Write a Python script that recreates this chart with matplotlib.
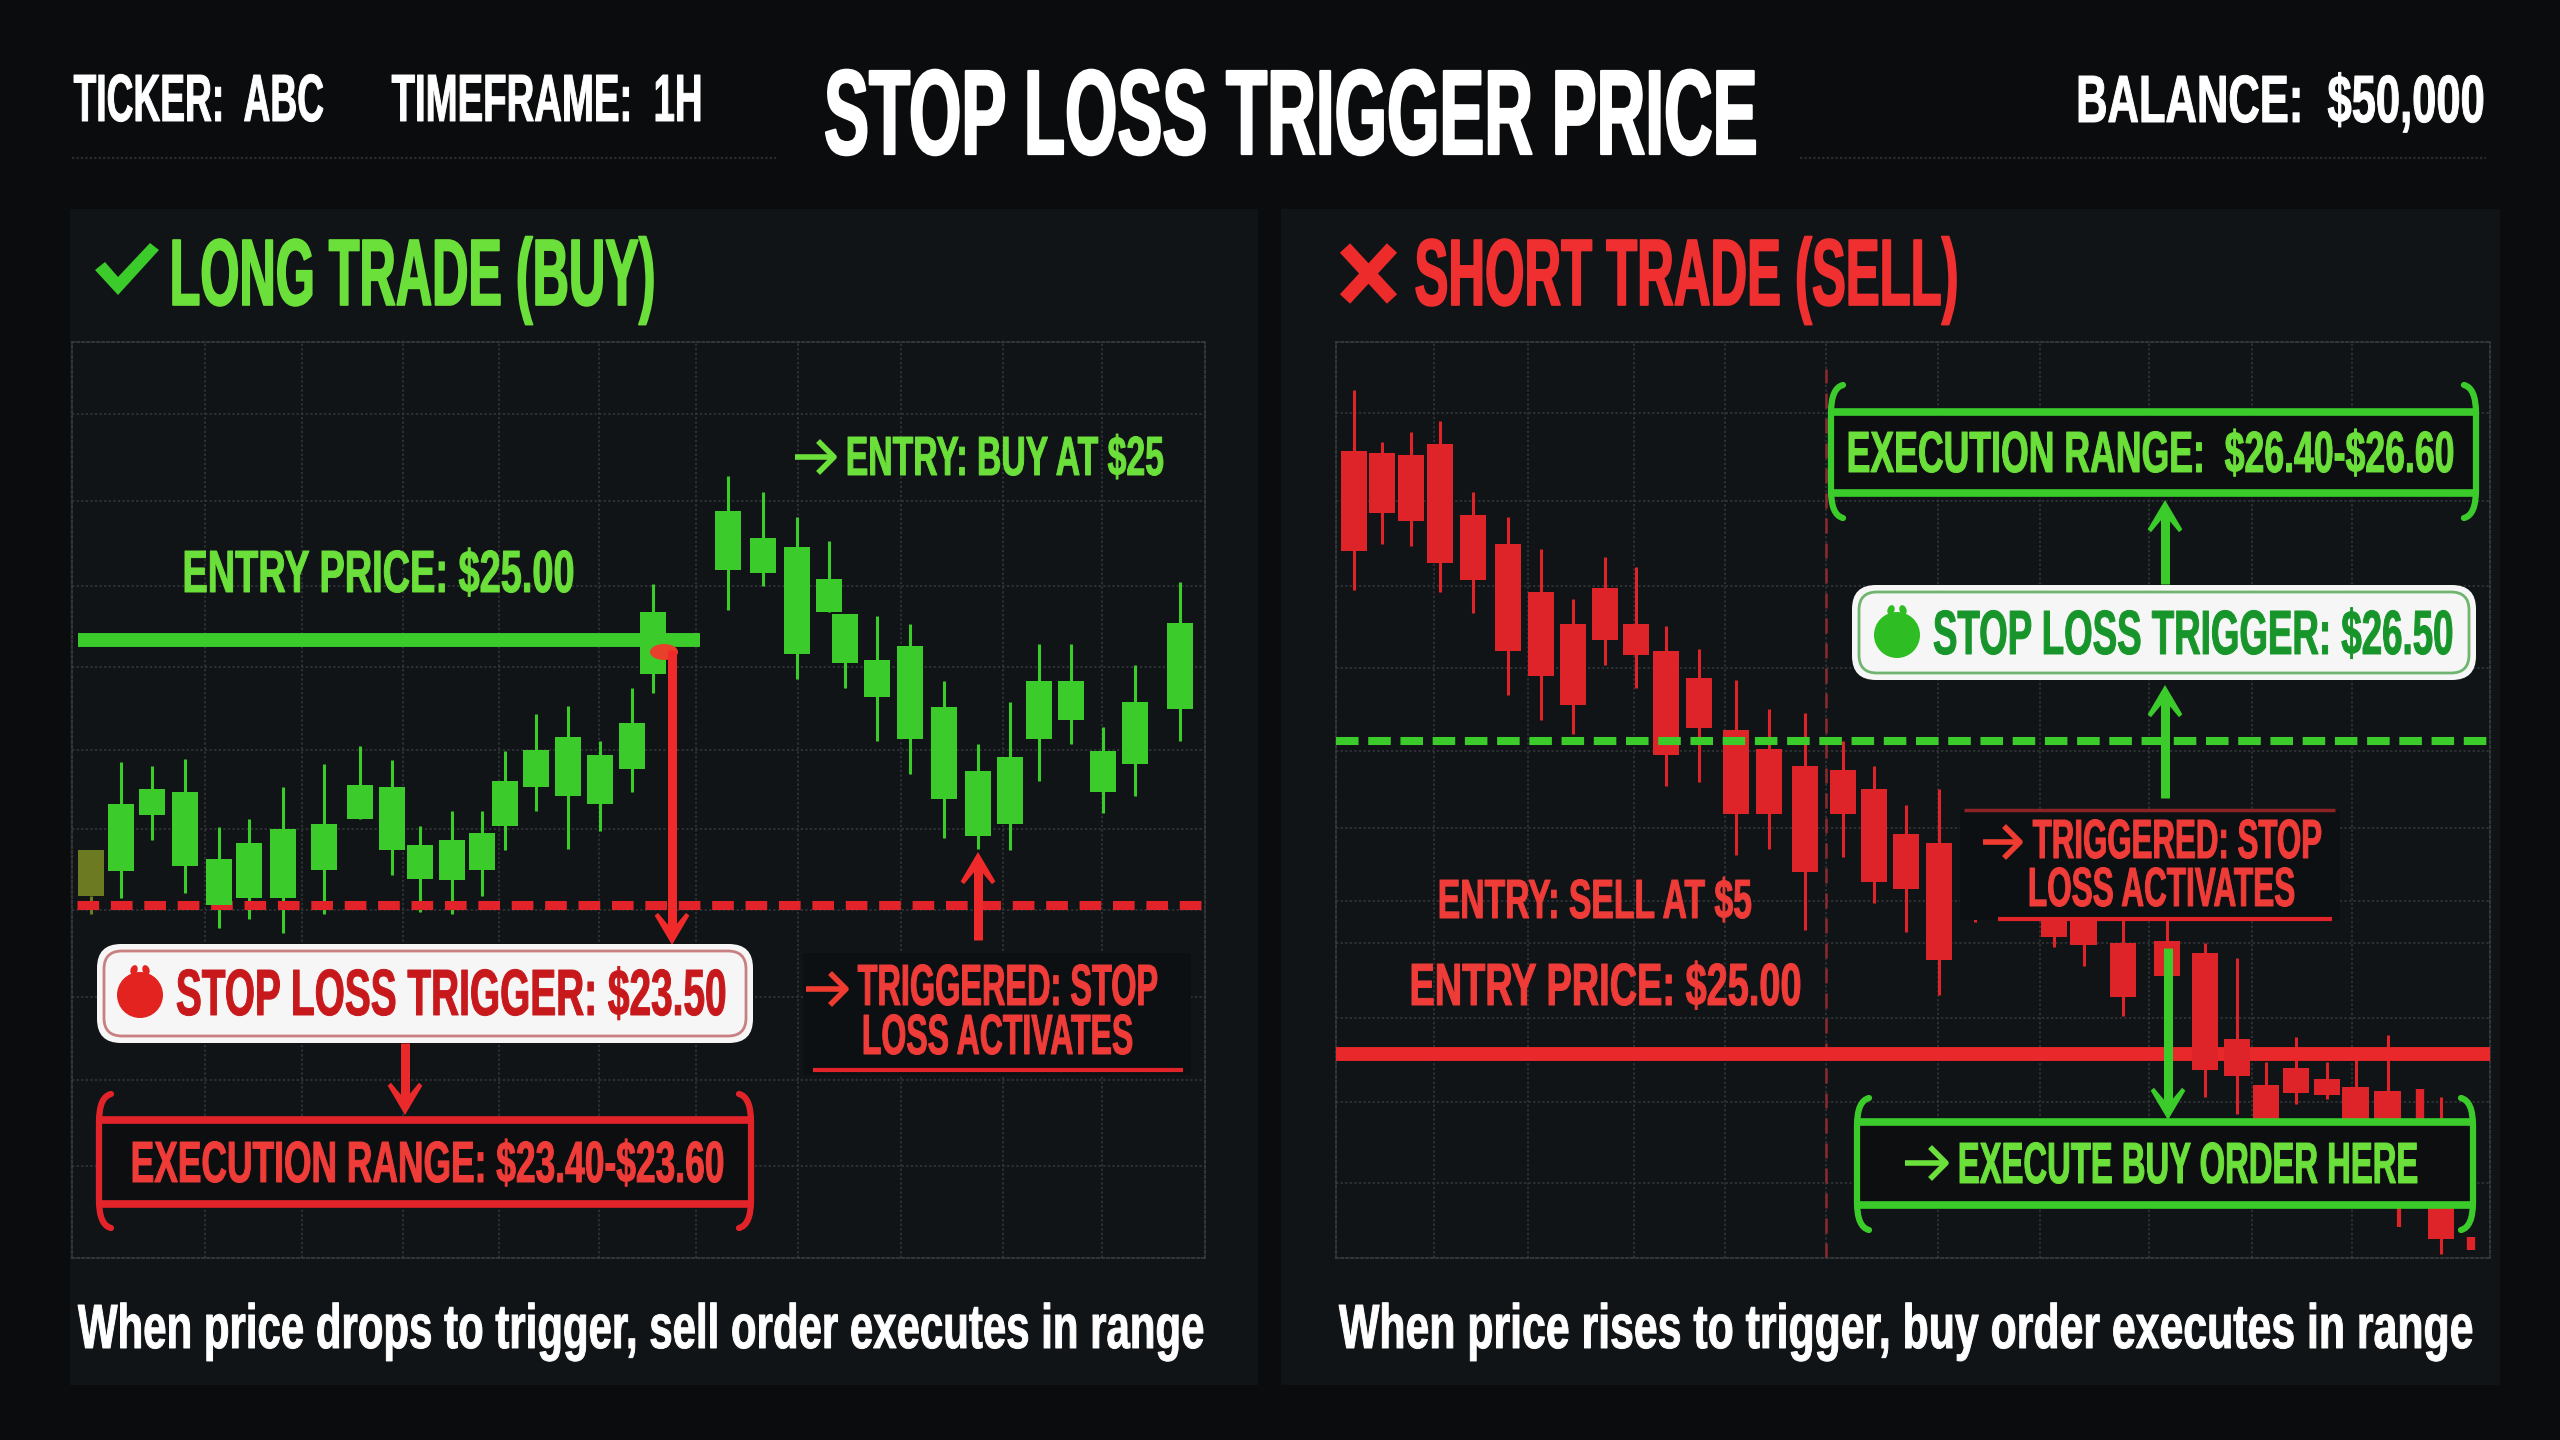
# -*- coding: utf-8 -*-
import matplotlib
matplotlib.use('Agg')
import matplotlib.pyplot as plt
from matplotlib.patches import Rectangle, FancyBboxPatch, Circle, Ellipse, Polygon, PathPatch
from matplotlib.path import Path
from matplotlib.text import Text
from matplotlib.textpath import TextPath
from matplotlib.font_manager import FontProperties
from matplotlib.transforms import Affine2D

# long trade candles (bar number, prices in $)
long_t = [0, .94, 1.9, 2.94, 4, 4.94, 6, 7.28, 8.4, 9.4, 10.28, 11.28, 12.22, 12.94, 13.9, 14.9, 15.9, 16.9, 17.56,
          19.9, 21, 22.06, 23.06, 23.56, 24.56, 25.6, 26.66, 27.72, 28.72, 29.62, 30.62, 31.62, 32.62, 34.03]
long_open = [23.55, 23.69, 24.01, 23.72, 23.50, 23.54, 23.54, 23.70, 23.99, 23.81, 23.65, 23.64, 23.70, 23.95, 24.17, 24.12, 24.07, 24.27, 24.81,
             25.40, 25.38, 24.92, 25.16, 24.87, 24.68, 24.44, 24.10, 23.89, 23.96, 24.44, 24.55, 24.14, 24.30, 24.61]
long_close = [23.81, 24.07, 24.16, 24.14, 23.76, 23.85, 23.93, 23.96, 24.18, 24.17, 23.84, 23.87, 23.91, 24.20, 24.38, 24.45, 24.35, 24.53, 25.16,
              25.73, 25.58, 25.53, 25.35, 25.15, 24.89, 24.97, 24.62, 24.26, 24.34, 24.77, 24.77, 24.37, 24.65, 25.10]
long_low = [23.45, 23.54, 23.87, 23.57, 23.37, 23.42, 23.34, 23.45, 23.99, 23.67, 23.46, 23.45, 23.55, 23.81, 24.03, 23.82, 23.92, 24.14, 24.70,
            25.17, 25.31, 24.78, 25.16, 24.73, 24.43, 24.24, 23.88, 23.82, 23.81, 24.20, 24.41, 24.02, 24.12, 24.43]
long_high = [24.13, 24.31, 24.29, 24.33, 23.94, 23.99, 24.17, 24.30, 24.40, 24.32, 23.95, 24.03, 24.03, 24.37, 24.58, 24.63, 24.43, 24.73, 25.32,
             25.93, 25.84, 25.70, 25.56, 25.15, 25.14, 25.09, 24.77, 24.41, 24.65, 24.98, 24.98, 24.51, 24.86, 25.33]

# short trade candles
short_t = [0, .88, 1.78, 2.69, 3.72, 4.81, 5.84, 6.84, 7.84, 8.81, 9.75, 10.78, 11.94, 12.97, 14.09, 15.28, 16.25, 17.25, 18.28,
           19.4, 21.88, 22.8, 24.03, 25.4, 26.6, 27.6, 28.5, 29.44, 30.4, 31.3, 32.3, 33.97]
short_open = [27.89, 27.88, 27.87, 27.92, 27.58, 27.44, 27.21, 27.06, 27.23, 27.06, 26.93, 26.80, 26.55, 26.46, 26.38, 26.36, 26.27, 26.05, 26.01,
              25.71, 25.70, 25.70, 25.53, 25.54, 25.48, 25.07, 24.85, 24.93, 24.88, 24.84, 24.82, 24.26]
short_close = [27.41, 27.59, 27.55, 27.35, 27.27, 26.93, 26.81, 26.67, 26.98, 26.91, 26.43, 26.56, 26.15, 26.15, 25.87, 26.15, 25.82, 25.79, 25.45,
               25.66, 25.56, 25.52, 25.27, 25.37, 24.92, 24.89, 24.60, 24.81, 24.80, 24.63, 24.63, 24.11]
short_low = [27.22, 27.44, 27.43, 27.21, 27.11, 26.72, 26.60, 26.53, 26.86, 26.75, 26.28, 26.30, 25.95, 25.98, 25.59, 25.94, 25.72, 25.58, 25.28,
             25.63, 25.51, 25.42, 25.18, 25.37, 24.79, 24.71, 24.60, 24.76, 24.78, 24.63, 24.63, 24.04]
short_high = [28.18, 27.93, 27.98, 28.03, 27.69, 27.57, 27.42, 27.18, 27.38, 27.33, 27.05, 26.94, 26.79, 26.65, 26.63, 26.50, 26.38, 26.19, 26.27,
              25.71, 25.85, 25.85, 25.64, 25.64, 25.53, 25.46, 24.96, 25.08, 24.96, 24.97, 25.09, 24.79]
# stray bits that stick out around the execute box
short_extra_t = [33.3, 32.66, 34.9]
short_extra_low = [24.60, 24.17, 24.06]
short_extra_high = [24.83, 24.27, 24.12]

long_entry = 25.00
long_stop = 23.50
short_entry = 25.00
short_stop = 26.50

# grid levels
long_grid_t = [3.56, 6.59, 9.75, 12.75, 15.88, 18.9, 22.1, 25.3, 28.5, 31.6]
long_grid_p = [26.28, 25.79, 25.31, 24.85, 24.38, 23.93, 23.47, 22.98, 22.51, 22.02]
short_grid_t = [2.5, 5.44, 8.75, 11.6, 14.75, 18.25, 21.44, 24.84, 28.06, 31.2]
short_grid_p = [28.07, 27.65, 27.24, 26.85, 26.45, 26.08, 25.73, 25.53, 25.17, 24.77, 24.38]

BG = '#0b0c0d'
PANEL = '#101416'
DARK = '#0c0e10'
GREEN = '#3bcb2b'
RED = '#e2242a'
GREEN_TXT = '#6ce03a'
RED_TXT = '#f03c38'
GRID = '#34383c'

fig = plt.figure(figsize=(25.6, 14.4), dpi=100, facecolor=BG)
W, H = 2560., 1440.


def px_axes(z):
    a = fig.add_axes([0, 0, 1, 1], zorder=z)
    a.set_xlim(0, W)
    a.set_ylim(H, 0)
    a.axis('off')
    a.patch.set_alpha(0)
    return a


back = px_axes(0)
top = px_axes(5)


class TallText(Text):
    # no condensed font is installed: font size fits the width x0..x1, glyphs are stretched up to the cap height
    def __init__(self, x0, x1, base, cap, txt, color, stroke):
        Text.__init__(self, x0, base, txt, color=color, parse_math=False, zorder=10, ha='left', va='baseline')
        self.span = (x0, x1)
        self.stroke = stroke
        self.prop = FontProperties(family='Liberation Sans', weight='bold')
        self.esc = txt.replace('$', r'\$')
        wide = TextPath((0, 0), self.esc, size=100, prop=self.prop).get_extents().width
        h = TextPath((0, 0), 'H', size=100, prop=self.prop).get_extents().height
        self.size_px = 100. * (x1 - x0) / wide
        self.stretch = cap / (h * self.size_px / 100.)
        self.set_fontproperties(self.prop)
        self.set_fontsize(self.size_px * 0.72)

    def draw(self, renderer):
        p = TextPath((0, 0), self.esc, size=self.size_px, prop=self.prop)
        e = p.get_extents()
        d0 = self.get_transform().transform((self.span[0], self.get_position()[1]))
        tr = Affine2D().translate(-e.x0, 0).scale(1, self.stretch).translate(d0[0], d0[1])
        gc = renderer.new_gc()
        gc.set_foreground(self.get_color())
        gc.set_linewidth(self.stroke)
        gc.set_antialiased(True)
        renderer.draw_path(gc, p, tr, rgbFace=matplotlib.colors.to_rgb(self.get_color()))
        gc.restore()


def label(x0, x1, base, cap, txt, color, stroke=0.7):
    t = TallText(x0, x1, base, cap, txt, color, stroke)
    top.add_artist(t)
    return t


def v_arrow(x, y0, y1, color, lw=9, head=28):
    d = 1 if y1 > y0 else -1
    top.plot([x, x], [y0, y1 - d * 12], color=color, lw=lw / 1.39, solid_capstyle='butt', zorder=6)
    top.add_patch(Polygon([(x, y1), (x - head * .62, y1 - d * head * 1.05), (x - head * .5, y1 - d * head * 1.15),
                           (x, y1 - d * head * .55), (x + head * .5, y1 - d * head * 1.15),
                           (x + head * .62, y1 - d * head * 1.05)], closed=True, fc=color, ec='none', zorder=6))


def h_arrow(x0, x1, y, color):
    top.plot([x0, x1 - 2], [y, y], color=color, lw=4, solid_capstyle='butt', zorder=6)
    top.plot([x1 - 15, x1 - 1, x1 - 15], [y - 14, y, y + 14], color=color, lw=4, zorder=6)


def bracket_box(x0, x1, y0, y1, yb0, yb1, color):
    top.add_patch(Rectangle((x0, y0), x1 - x0, y1 - y0, fc=DARK, ec='none', zorder=4))
    top.plot([x0, x1], [y0, y0], color=color, lw=5.5, solid_capstyle='butt', zorder=5)
    top.plot([x0, x1], [y1, y1], color=color, lw=5.5, solid_capstyle='butt', zorder=5)
    for x, s in [(x0, 1), (x1, -1)]:
        verts = [(x + s * 12, yb0), (x, yb0 + 3), (x, yb0 + 28), (x, yb1 - 28), (x, yb1 - 3), (x + s * 12, yb1)]
        codes = [Path.MOVETO, Path.CURVE3, Path.CURVE3, Path.LINETO, Path.CURVE3, Path.CURVE3]
        top.add_patch(PathPatch(Path(verts, codes), fc='none', ec=color, lw=4.5, capstyle='round', zorder=5))


def white_box(x0, x1, y0, y1, color, edge, cx, cy):
    top.add_patch(FancyBboxPatch((x0, y0), x1 - x0, y1 - y0, boxstyle='round,pad=0,rounding_size=24',
                                 fc='#f6f6f6', ec='none', zorder=7))
    top.add_patch(FancyBboxPatch((x0 + 7, y0 + 7), x1 - x0 - 14, y1 - y0 - 14, boxstyle='round,pad=0,rounding_size=18',
                                 fc='none', ec=edge, lw=2, zorder=8))
    top.add_patch(Circle((cx, cy), 23, fc=color, ec='none', zorder=8))
    top.add_patch(Ellipse((cx - 6, cy - 25), 7, 10, angle=20, fc=color, ec='none', zorder=8))
    top.add_patch(Ellipse((cx + 6, cy - 25), 7, 10, angle=-20, fc=color, ec='none', zorder=8))


def candles(ax, t, o, c, lo, hi, color, width=.82):
    ax.vlines(t, lo, hi, color=color, lw=2.2, zorder=3)
    bottom = [min(a, b) for a, b in zip(o, c)]
    height = [abs(a - b) for a, b in zip(o, c)]
    ax.bar(t, height, width=width, bottom=bottom, color=color, zorder=3.5, linewidth=0)


def chart_axes(x0, x1, y0, y1, xlim, ylim, gx, gy):
    a = fig.add_axes([x0 / W, 1 - y1 / H, (x1 - x0) / W, (y1 - y0) / H], zorder=2)
    a.set_xlim(*xlim)
    a.set_ylim(*ylim)
    a.patch.set_alpha(0)
    a.set_xticks(gx)
    a.set_yticks(gy)
    a.tick_params(length=0, labelbottom=False, labelleft=False)
    a.grid(True, color=GRID, lw=1.1, ls=(0, (1.5, 1.5)), zorder=0)
    for s in a.spines.values():
        s.set_color('#3a3e41')
        s.set_linewidth(1.2)
        s.set_linestyle((0, (1.5, 1.5)))
    return a


# background panels
back.add_patch(Rectangle((70, 209), 1188, 1176, fc=PANEL, ec='none'))
back.add_patch(Rectangle((1281, 209), 1219, 1176, fc=PANEL, ec='none'))
back.plot([72, 776], [158, 158], color='#2a2c2e', lw=1.6, ls=(0, (1, 1)))
back.plot([1800, 2486], [158, 158], color='#2a2c2e', lw=1.6, ls=(0, (1, 1)))

# left chart
ax1 = chart_axes(72, 1205, 342, 1258, (-0.59, 34.81), (21.50, 26.69), long_grid_t, long_grid_p)
colors_first = '#6c7a22'
candles(ax1, long_t[1:], long_open[1:], long_close[1:], long_low[1:], long_high[1:], GREEN)
candles(ax1, long_t[:1], long_open[:1], long_close[:1], long_low[:1], long_open[:1], colors_first)
ax1.plot([-0.4, 19.03], [long_entry, long_entry], color=GREEN, lw=10, solid_capstyle='butt', zorder=4)
ax1.axhline(long_stop, color=RED, lw=6.5, ls=(0, (2.4, 1.3)), xmin=0.004, zorder=3.2)

# right chart
ax2 = chart_axes(1336, 2490, 342, 1258, (-0.56, 35.5), (24.02, 28.41), short_grid_t, short_grid_p)
candles(ax2, short_t, short_open, short_close, short_low, short_high, '#de2428')
ax2.vlines(short_extra_t, short_extra_low, short_extra_high, color='#de2428', lw=[6, 3, 6], zorder=3)
ax2.axhline(short_entry, color='#e8282a', lw=10, zorder=3.2)
ax2.axhline(short_stop, color=GREEN, lw=5.8, ls=(0, (2.8, 1.2)), zorder=4)
ax2.axvline(short_grid_t[4], color='#8a2a2e', lw=1.8, ls=(0, (6, 4)), ymax=0.97, zorder=2.5)

# header
label(74, 323, 121, 46, 'TICKER:  ABC', 'white')
label(392, 700, 121, 46, 'TIMEFRAME:  1H', 'white')
label(826, 1755, 154, 83, 'STOP LOSS TRIGGER PRICE', 'white', stroke=1.6)
label(2079, 2483, 122, 46, 'BALANCE:  $50,000', 'white')

# panel titles
top.add_patch(Polygon([(95, 270), (105, 262), (118, 277), (150, 243), (159, 250), (118, 295)], fc=GREEN, ec='none'))
label(173, 653, 305, 65, 'LONG TRADE (BUY)', GREEN_TXT, stroke=1.2)
top.plot([1345, 1392], [248, 299], color='#ee2b2b', lw=10, solid_capstyle='butt')
top.plot([1345, 1392], [299, 248], color='#ee2b2b', lw=10, solid_capstyle='butt')
label(1416, 1956, 305, 65, 'SHORT TRADE (SELL)', '#f03030', stroke=1.2)

# captions
label(78, 1203, 1348, 43, 'When price drops to trigger, sell order executes in range', 'white')
label(1339, 2472, 1348, 43, 'When price rises to trigger, buy order executes in range', 'white')

# long annotations
label(185, 573, 592, 41, 'ENTRY PRICE: $25.00', GREEN_TXT)
h_arrow(795, 835, 457, GREEN_TXT)
label(848, 1163, 475, 38, 'ENTRY: BUY AT $25', GREEN_TXT)
top.add_patch(Ellipse((664, 652), 28, 16, fc='#e8402a', ec='none', zorder=3))
v_arrow(672, 650, 945, '#f02a2a')
white_box(97, 753, 944, 1043, '#e3231f', '#c98080', 140, 995)
label(177, 725, 1015, 45, 'STOP LOSS TRIGGER: $23.50', '#c7181c')
v_arrow(405, 1043, 1115, '#ea2a2a')
bracket_box(99, 751, 1120, 1204, 1094, 1228, RED)
label(133, 723, 1182, 40, 'EXECUTION RANGE: $23.40-$23.60', RED_TXT)
v_arrow(978, 940, 852, '#f02a2a')
top.add_patch(Rectangle((803, 953), 388, 122, fc='#0d1012', ec='none', zorder=4))
h_arrow(806, 847, 989, '#f03c30')
label(858, 1157, 1005, 40, 'TRIGGERED: STOP', RED_TXT)
label(864, 1132, 1054, 39, 'LOSS ACTIVATES', RED_TXT)
top.plot([813, 1183], [1070, 1070], color=RED, lw=3, solid_capstyle='butt', zorder=6)

# short annotations
bracket_box(1831, 2476, 412, 493, 385, 518, GREEN)
label(1849, 2453, 472, 40, 'EXECUTION RANGE:  $26.40-$26.60', GREEN_TXT)
v_arrow(2165, 584, 500, GREEN)
white_box(1852, 2476, 585, 680, '#2ebd22', '#6fb56f', 1897, 635)
label(1934, 2452, 654, 43, 'STOP LOSS TRIGGER: $26.50', '#17952a')
v_arrow(2165, 798, 685, GREEN)
top.add_patch(Rectangle((1960, 810), 380, 110, fc='#0d1012', ec='none', zorder=4))
top.plot([1964, 2335], [810, 810], color='#8a2226', lw=2.5, solid_capstyle='butt', zorder=6)
h_arrow(1983, 2021, 842, '#f03c30')
label(2033, 2321, 858, 38, 'TRIGGERED: STOP', RED_TXT)
label(2030, 2294, 906, 38, 'LOSS ACTIVATES', RED_TXT)
top.plot([1998, 2332], [919, 919], color=RED, lw=3, solid_capstyle='butt', zorder=6)
label(1440, 1751, 918, 38, 'ENTRY: SELL AT $5', RED_TXT)
label(1412, 1800, 1005, 41, 'ENTRY PRICE: $25.00', RED_TXT)
bracket_box(1857, 2473, 1122, 1205, 1098, 1230, GREEN)
v_arrow(2168, 948, 1120, GREEN)
h_arrow(1905, 1947, 1163, GREEN_TXT)
label(1960, 2417, 1183, 40, 'EXECUTE BUY ORDER HERE', GREEN_TXT)

fig.savefig('out.png', dpi=100, facecolor=BG)
